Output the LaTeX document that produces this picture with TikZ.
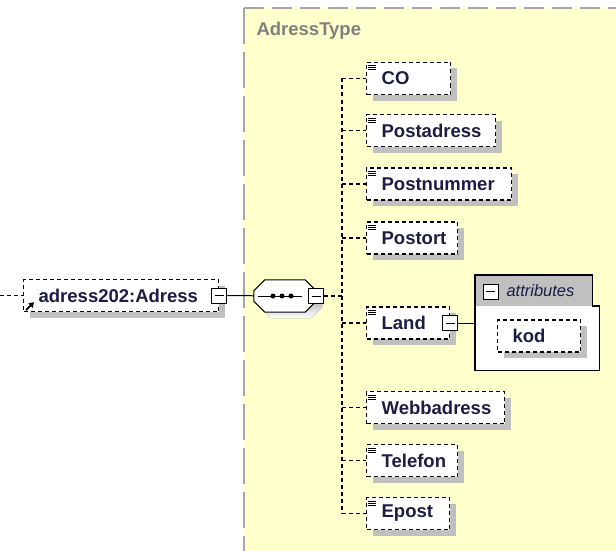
\documentclass[tikz,border=0pt]{standalone}
\usepackage{fontspec}
\setmainfont{Liberation Sans}
\usetikzlibrary{shadows,arrows.meta}
\definecolor{typebg}{RGB}{255,255,204}
\definecolor{typeline}{RGB}{165,165,165}
\definecolor{typetext}{RGB}{128,128,128}
\definecolor{elemtext}{RGB}{28,28,70}
\definecolor{shade}{RGB}{192,192,192}
\definecolor{headgray}{RGB}{192,192,192}
\begin{document}
\begin{tikzpicture}[x=1pt,y=-1pt,
    every node/.style={font=\fontsize{18.5}{21}\selectfont\bfseries,text=elemtext},
    elem/.style={draw,fill=white,dash pattern=on 4pt off 3pt,line width=1.3pt,minimum height=32,inner xsep=15,inner ysep=0,anchor=west,align=left,general shadow={fill=shade,shadow xshift=6pt,shadow yshift=-6pt}},
    minusbox/.style={draw,solid,fill=white,line width=1pt,minimum size=15,inner sep=0,path picture={\draw[solid,line width=1pt] ([xshift=3pt]path picture bounding box.west) -- ([xshift=-3pt]path picture bounding box.east);}},
    conn/.style={line width=1pt},
    dconn/.style={line width=1.3pt,dash pattern=on 4pt off 3pt}]
    \useasboundingbox (0,0) rectangle (616,551);
    % complex type area
    \fill[typebg] (244,8) rectangle (616,551);
    \draw[typeline,line width=2pt,dash pattern=on 20pt off 8pt] (244,8) -- (616,8);
    \draw[typeline,line width=2pt,dash pattern=on 36pt off 8pt] (244,8) -- (244,551);
    \node[anchor=west,text=typetext] (typename) at (253,31) {AdressType};
    % root element
    \coordinate (in) at (0,295.5);
    \node[elem,text width=165pt] (root) at (23,295.5) {adress202:Adress};
    \draw[dconn] (in) -- (root.west);
    \draw[line width=1.8pt,-{Triangle[length=5pt,width=6pt]}] ([xshift=3pt,yshift=2pt]root.south west) -- +(8pt,8pt);
    \node[minusbox] (rootminus) at (root.east) {};
    % sequence
    \node[minimum width=62,minimum height=32,inner sep=0] (seq) at (285,296) {};
    \fill[shade,transform canvas={xshift=6pt,yshift=-6pt}] ([xshift=11pt]seq.north west) -- ([xshift=-11pt]seq.north east) -- ([yshift=-11pt]seq.north east) -- ([yshift=11pt]seq.south east) -- ([xshift=-11pt]seq.south east) -- ([xshift=11pt]seq.south west) -- ([yshift=11pt]seq.south west) -- ([yshift=-11pt]seq.north west) -- cycle;
    \draw[fill=white,line width=1pt] ([xshift=11pt]seq.north west) -- ([xshift=-11pt]seq.north east) -- ([yshift=-11pt]seq.north east) -- ([yshift=11pt]seq.south east) -- ([xshift=-11pt]seq.south east) -- ([xshift=11pt]seq.south west) -- ([yshift=11pt]seq.south west) -- ([yshift=-11pt]seq.north west) -- cycle;
    \draw[conn] ([xshift=-27pt]seq.center) -- ([xshift=17pt]seq.center);
    \foreach \dx in {-12,-3,6}
        \fill ([xshift=\dx pt]seq.center) circle (2.5pt);
    \node[minusbox] (seqminus) at (seq.east) {};
    \draw[conn] (rootminus) -- (seq);
    \coordinate (spine) at (342,296);
    \draw[dconn] (seqminus) -- (spine);
    % child elements
    \foreach \ename/\etext/\ey/\ew in {co/CO/78.5/84,padr/Postadress/130.5/129,pnr/Postnummer/184/145,port/Postort/238/91,land/Land/323/83,webb/Webbadress/407.5/138,tel/Telefon/460.5/91,epost/Epost/513.5/83}{
        \pgfmathsetmacro\tw{\ew-30}
        \node[elem,text width=\tw pt] (\ename) at (366,\ey) {\etext};
        \foreach \k in {0,1,2}
            \draw[line width=0.7pt] ([xshift=2pt,yshift=-(4+2*\k)*1pt]\ename.north west) -- +(8pt,0);
        \draw[dconn] (spine |- \ename.west) -- (\ename.west);
    }
    \draw[dconn] (spine |- co.west) -- (spine |- epost.west);
    % attributes of Land
    \node[minusbox] (landminus) at (land.east) {};
    \node[fill=headgray,minimum width=117,minimum height=31,inner sep=0,anchor=north west] (attrhead) at (475,275) {};
    \node[fill=white,minimum width=124,minimum height=64,inner sep=0,anchor=north west] (attrbody) at (475,306) {};
    \draw[line width=1.3pt,line join=miter] (attrbody.south west) |- (attrhead.north east) |- (attrbody.north east) |- (attrbody.south west) -- cycle;
    \node[minusbox] (attrminus) at (490.5,291.5) {};
    \node[anchor=west,font=\fontsize{16.5}{18}\selectfont\itshape] (attrlabel) at (503,291) {attributes};
    \node[elem,text width=53pt] (kod) at (497,336) {kod};
    \draw[conn] (landminus) -- (landminus -| attrbody.west);
\end{tikzpicture}
\end{document}
